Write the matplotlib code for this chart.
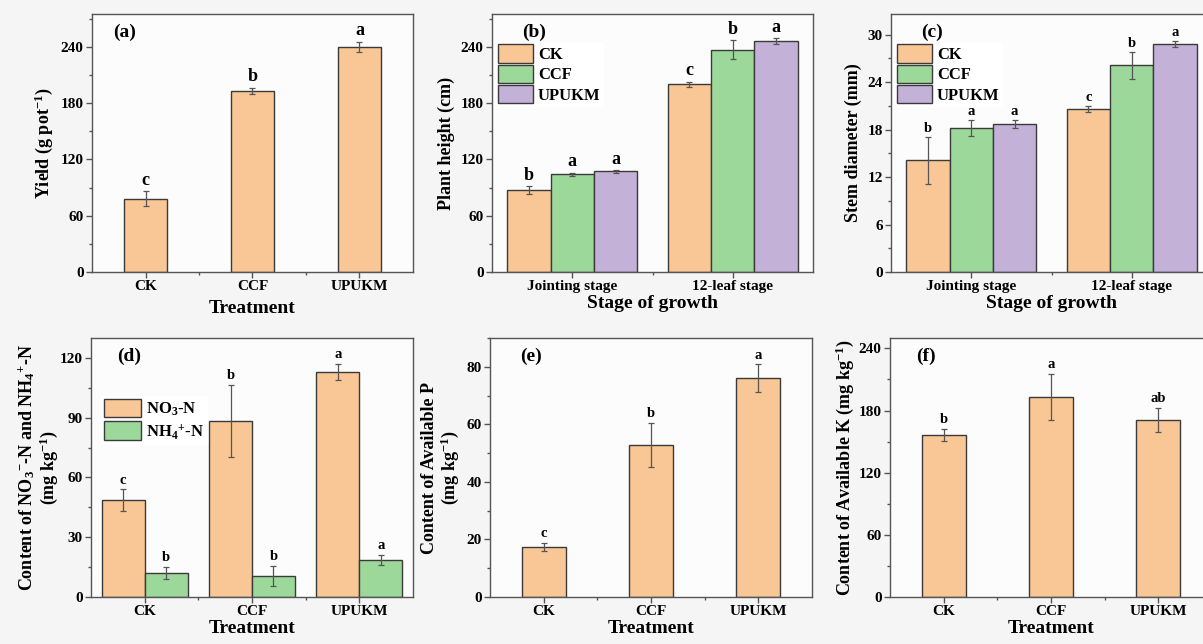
import numpy as np
import matplotlib
matplotlib.use("Agg")
import matplotlib.pyplot as plt
from matplotlib.patches import Patch
from matplotlib.ticker import MultipleLocator, FixedLocator

plt.rcParams['font.family'] = 'Liberation Serif'
plt.rcParams['font.weight'] = 'bold'
plt.rcParams['axes.labelweight'] = 'bold'
plt.rcParams['mathtext.default'] = 'regular'

# ---- data ----
treatments = ['CK', 'CCF', 'UPUKM']
stages = ['Jointing stage', '12-leaf stage']

yield_val = [78, 193, 240]
yield_err = [8, 3, 5]
yield_sig = ['c', 'b', 'a']

height_val = [[87.5, 200], [104, 237], [107.5, 246]]   # CK, CCF, UPUKM x stage
height_err = [[4, 3], [2, 10], [1.5, 3]]
height_sig = [['b', 'c'], ['a', 'b'], ['a', 'a']]

stem_val = [[14.1, 20.6], [18.2, 26.1], [18.7, 28.8]]
stem_err = [[3.0, 0.4], [1.0, 1.7], [0.5, 0.4]]
stem_sig = [['b', 'c'], ['a', 'b'], ['a', 'a']]

no3_val = [48.5, 88.4, 113]
no3_err = [5.5, 18, 4]
no3_sig = ['c', 'b', 'a']
nh4_val = [12.2, 10.7, 18.5]
nh4_err = [3, 5, 2.5]
nh4_sig = ['b', 'b', 'a']

p_val = [17.4, 52.9, 76]
p_err = [1.5, 7.6, 4.8]
p_sig = ['c', 'b', 'a']

k_val = [156.5, 193, 171]
k_err = [6, 22, 11.5]
k_sig = ['b', 'a', 'ab']

c_ck = '#f9c795'
c_ccf = '#9dd89b'
c_up = '#c3b1d8'
edge = '#3a3a3a'
colors = [c_ck, c_ccf, c_up]

W, H = 1203, 644
fig = plt.figure(figsize=(W / 100, H / 100), dpi=100, facecolor='#f6f5f6')


def add_ax(l, t, r, b):
    ax = fig.add_axes([l / W, 1 - b / H, (r - l) / W, (b - t) / H])
    ax.set_facecolor('#fdfcfd')
    for s in ax.spines.values():
        s.set_color('#555555')
        s.set_linewidth(1.0)
    ax.tick_params(which='major', direction='out', length=4, width=1, color='#555555',
                   labelsize=11, pad=2)
    ax.tick_params(which='minor', direction='out', length=2.5, width=1, color='#555555')
    return ax


def bars(ax, x, vals, errs, sig, color, width, fs, off=2):
    ax.bar(x, vals, width, color=color, edgecolor=edge, linewidth=1.0, zorder=2)
    ax.errorbar(x, vals, yerr=errs, fmt='none', ecolor='#555555', elinewidth=0.9,
                capsize=2.5, capthick=0.9, zorder=3)
    for xi, v, e, s in zip(x, vals, errs, sig):
        ax.annotate(s, (xi, v + e), xytext=(0, off), textcoords='offset points',
                    ha='center', va='bottom', fontsize=fs, fontweight='bold', zorder=6)


def panel_label(ax, s, x, y):
    ax.text(x, y, s, transform=ax.transAxes, fontsize=14, fontweight='bold',
            ha='left', va='center')


def patch(c, name):
    return Patch(facecolor=c, edgecolor=edge, linewidth=1.0, label=name)


# (a)
ax = add_ax(92, 14, 413, 272)
xs = np.arange(1, 4)
bars(ax, xs, yield_val, yield_err, yield_sig, c_ck, 0.41, 13)
ax.set_xlim(0.5, 3.5)
ax.set_ylim(0, 275)
ax.yaxis.set_major_locator(MultipleLocator(60))
ax.yaxis.set_minor_locator(MultipleLocator(30))
ax.set_xticks(xs, treatments)
ax.xaxis.set_minor_locator(FixedLocator([1.5, 2.5]))
ax.set_xlabel('Treatment', fontsize=14, labelpad=5)
ax.set_ylabel('Yield (g pot$^{-1}$)', fontsize=13)
panel_label(ax, '(a)', 0.065, 0.93)

# (b) and (c)
for (l, r), vals, errs, sig, ylim, maj, mnr, ylab, lab, fs in [
        ((492, 813), height_val, height_err, height_sig, 275, 60, 30, 'Plant height (cm)', '(b)', 13),
        ((891, 1212), stem_val, stem_err, stem_sig, 32.6, 6, 3, 'Stem diameter (mm)', '(c)', 10.5)]:
    ax = add_ax(l, 14, r, 272)
    xs = np.arange(1, 3)
    w = 0.27
    for i, name in enumerate(treatments):
        bars(ax, xs + (i - 1) * w, vals[i], errs[i], sig[i], colors[i], w, fs, off=1.5)
    ax.set_xlim(0.5, 2.5)
    ax.set_ylim(0, ylim)
    ax.yaxis.set_major_locator(MultipleLocator(maj))
    ax.yaxis.set_minor_locator(MultipleLocator(mnr))
    ax.set_xticks(xs, stages)
    ax.xaxis.set_minor_locator(FixedLocator([1.5]))
    ax.set_xlabel('Stage of growth', fontsize=14, labelpad=1)
    ax.set_ylabel(ylab, fontsize=13)
    panel_label(ax, lab, 0.095, 0.93)
    ax.legend(handles=[patch(c, n) for c, n in zip(colors, treatments)],
              loc='upper left', bbox_to_anchor=(0.0, 0.905), fontsize=12,
              frameon=True, fancybox=False, edgecolor='white', framealpha=1,
              handlelength=2.1, handleheight=1.3, handletextpad=0.3,
              labelspacing=0.1, borderaxespad=0.2, borderpad=0.15)

# (d)
ax = add_ax(91, 338, 413, 597)
xs = np.arange(1, 4)
w = 0.4
bars(ax, xs - w / 2, no3_val, no3_err, no3_sig, c_ck, w, 10.5)
bars(ax, xs + w / 2, nh4_val, nh4_err, nh4_sig, c_ccf, w, 10.5)
ax.set_xlim(0.5, 3.5)
ax.set_ylim(0, 130)
ax.yaxis.set_major_locator(MultipleLocator(30))
ax.yaxis.set_minor_locator(MultipleLocator(15))
ax.set_xticks(xs, treatments)
ax.xaxis.set_minor_locator(FixedLocator([1.5, 2.5]))
ax.set_xlabel('Treatment', fontsize=14, labelpad=1)
ax.set_ylabel('Content of NO$_3$$^{-}$-N and NH$_4$$^{+}$-N\n(mg kg$^{-1}$)', fontsize=13,
              linespacing=1.0, labelpad=0)
panel_label(ax, '(d)', 0.08, 0.93)
ax.legend(handles=[patch(c_ck, 'NO$_3$-N'), patch(c_ccf, 'NH$_4$$^{+}$-N')],
          loc='upper left', bbox_to_anchor=(0.02, 0.79), fontsize=12,
          frameon=True, fancybox=False, edgecolor='white', framealpha=1,
          handlelength=2.2, handleheight=1.3, handletextpad=0.3,
          labelspacing=0.2, borderaxespad=0.2, borderpad=0.2)

# (e)
ax = add_ax(490, 338, 812, 597)
bars(ax, xs, p_val, p_err, p_sig, c_ck, 0.41, 10.5)
ax.set_xlim(0.5, 3.5)
ax.set_ylim(0, 90)
ax.yaxis.set_major_locator(MultipleLocator(20))
ax.yaxis.set_minor_locator(MultipleLocator(10))
ax.set_xticks(xs, treatments)
ax.xaxis.set_minor_locator(FixedLocator([1.5, 2.5]))
ax.set_xlabel('Treatment', fontsize=14, labelpad=1)
ax.set_ylabel('Content of Available P\n(mg kg$^{-1}$)', fontsize=13, linespacing=1.0)
panel_label(ax, '(e)', 0.095, 0.93)

# (f)
ax = add_ax(890, 338, 1212, 597)
bars(ax, xs, k_val, k_err, k_sig, c_ck, 0.41, 10.5)
ax.set_xlim(0.5, 3.5)
ax.set_ylim(0, 250)
ax.yaxis.set_major_locator(MultipleLocator(60))
ax.yaxis.set_minor_locator(MultipleLocator(30))
ax.set_xticks(xs, treatments)
ax.xaxis.set_minor_locator(FixedLocator([1.5, 2.5]))
ax.set_xlabel('Treatment', fontsize=14, labelpad=1)
ax.set_ylabel('Content of Available K (mg kg$^{-1}$)', fontsize=13, labelpad=2)
panel_label(ax, '(f)', 0.08, 0.93)

fig.savefig('out.png', dpi=100, facecolor=fig.get_facecolor())
